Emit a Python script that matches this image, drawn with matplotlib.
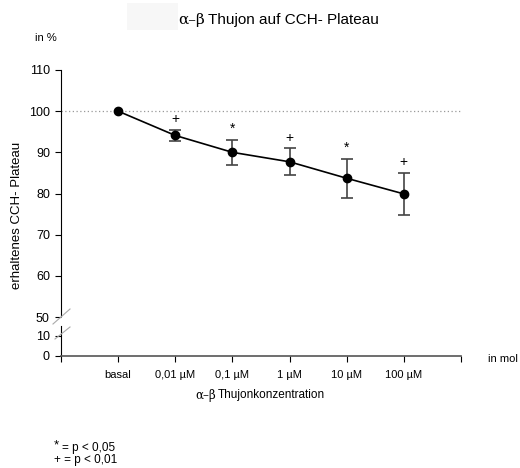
import matplotlib.pyplot as plt
from matplotlib.patches import Rectangle

plt.rcParams['font.family'] = ['Liberation Sans', 'DejaVu Sans']

# Thujon concentrations and retained CCH plateau (%)
labels = ["basal", "0,01 \u00b5M", "0,1 \u00b5M", "1 \u00b5M", "10 \u00b5M", "100 \u00b5M"]
means = [100.0, 94.1, 90.0, 87.7, 83.7, 79.9]
errors = [0.0, 1.4, 3.0, 3.3, 4.8, 5.2]
signif = ["", "+", "*", "+", "*", "+"]

x = list(range(len(labels)))
greek = ['DejaVu Serif', 'Liberation Sans']

fig = plt.figure(figsize=(5.2, 4.68), dpi=100)
ax = fig.add_axes([61 / 520, (468 - 317) / 468, 400 / 520, 247 / 468])
axb = fig.add_axes([61 / 520, (468 - 356) / 468, 400 / 520, 30 / 468])

# upper part of the broken axis: 50-110
ax.axhline(100, color="#999999", lw=0.9, ls=(0, (1, 2)))
ax.errorbar(x[1:], means[1:], yerr=errors[1:], fmt="none", ecolor="#444444",
            elinewidth=1.2, capsize=4.5, capthick=1.2, zorder=2)
ax.plot(x, means, color="black", lw=1.2, marker="o", ms=6, zorder=3)
for xi, m, e, s in zip(x, means, errors, signif):
    if not s:
        continue
    off = 7.5 if s == "+" else 8
    ax.annotate(s, (xi, m + e), xytext=(0, off), textcoords="offset points",
                ha="center", va="center", fontsize=10)

ax.set_xlim(-1, 6)
ax.set_ylim(50, 110)
ax.set_yticks([50, 60, 70, 80, 90, 100, 110])
ax.set_xticks([])
for sp in ["top", "right", "bottom"]:
    ax.spines[sp].set_visible(False)
ax.spines["left"].set_bounds(50.3, 110)
ax.tick_params(axis="y", direction="out", length=4, labelsize=9, width=0.8, pad=4)

# lower part: 0-10
axb.set_xlim(-1, 6)
axb.set_ylim(0, 15)
axb.set_yticks([0, 10])
axb.set_xticks(list(range(-1, 7)))
axb.set_xticklabels([""] + labels + [""])
for sp in ["top", "right"]:
    axb.spines[sp].set_visible(False)
axb.spines["bottom"].set_color("#555555")
axb.spines["bottom"].set_linewidth(1.2)
axb.tick_params(axis="y", direction="out", length=4, labelsize=9, width=0.8, pad=4)
axb.tick_params(axis="x", direction="out", length=4, labelsize=8, width=0.8, pad=6)
axb.patch.set_alpha(0)

# break marks
for (xa, ya), (xb, yb) in [((53, 324), (70, 309)), ((55, 339), (70, 327))]:
    fig.add_artist(plt.Line2D([xa / 520, xb / 520], [1 - ya / 468, 1 - yb / 468],
                              color="#aaaaaa", lw=0.8))

# faint box behind the title
fig.add_artist(Rectangle((127 / 520, (468 - 30) / 468), 51 / 520, 27 / 468,
                         transform=fig.transFigure, color="#f7f7f7", lw=0))
fig.text(178 / 520, 1 - 20 / 468, "\u03b1\u2013\u03b2", fontsize=11, va="center",
         family=greek)
fig.text(208 / 520, 1 - 20 / 468, "Thujon auf CCH- Plateau", fontsize=11, va="center")

fig.text(35 / 520, 1 - 38 / 468, "in %", fontsize=8, va="center")
fig.text(488 / 520, 1 - 359 / 468, "in mol", fontsize=8, va="center")
fig.text(17 / 520, 1 - 215 / 468, "erhaltenes CCH- Plateau", fontsize=9.5,
         rotation=90, va="center", ha="center")
fig.text(195 / 520, 1 - 395 / 468, "\u03b1\u2013\u03b2", fontsize=8.5, va="center",
         family=greek)
fig.text(218 / 520, 1 - 395 / 468, "Thujonkonzentration", fontsize=8.5, va="center")

fig.text(54 / 520, 1 - 445 / 468, "*", fontsize=9.5, va="center")
fig.text(62 / 520, 1 - 448 / 468, "= p < 0,05", fontsize=8.5, va="center")
fig.text(54 / 520, 1 - 460 / 468, "+ = p < 0,01", fontsize=8.5, va="center")

fig.savefig("out.png", dpi=100)
